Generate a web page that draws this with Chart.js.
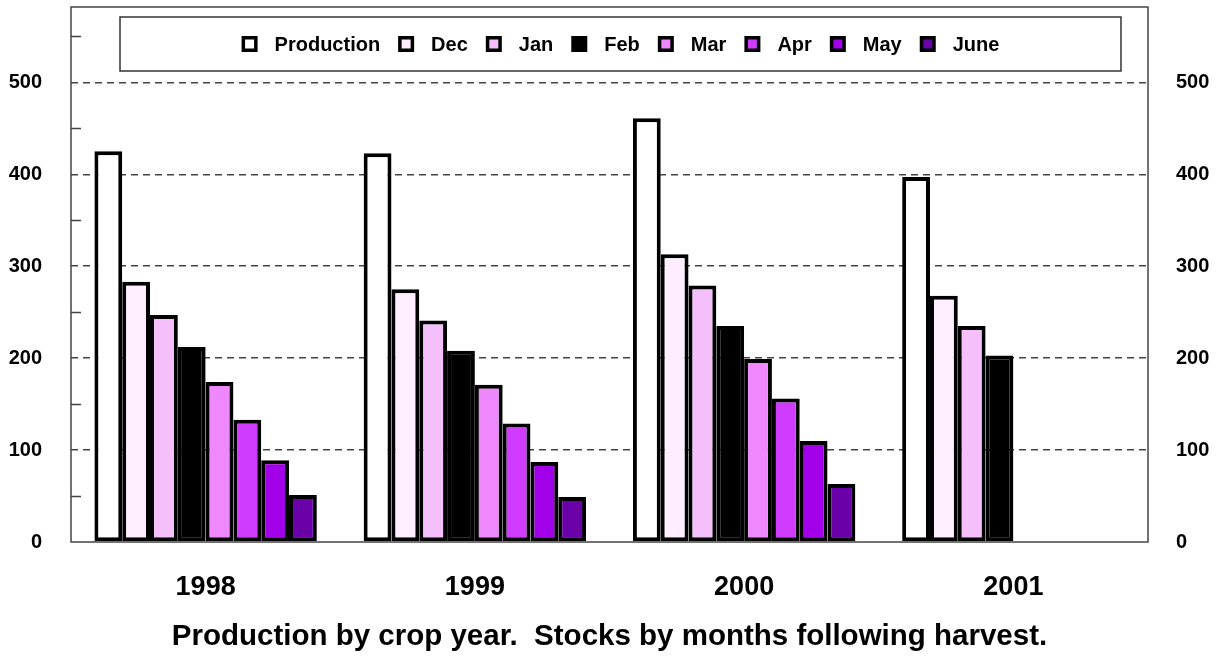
<!DOCTYPE html>
<html>
<head>
<meta charset="utf-8">
<script src="https://cdn.jsdelivr.net/npm/chart.js@4/dist/chart.umd.min.js"></script>
<style>
  html, body { margin: 0; padding: 0; background: #fff; }
  #wrap { width: 1217px; height: 657px; }
</style>
</head>
<body>
<div id="wrap"><canvas id="stocksChart" width="1217" height="657"></canvas></div>
<script>
// crop years
const categories = ["1998", "1999", "2000", "2001"];

// production and stocks by month after harvest
const production = [425, 423, 461, 397];
const dec = [283, 275, 313, 268];
const jan = [247, 241, 279, 235];
const feb = [212, 208, 235, 203];
const mar = [174, 171, 199, null];
const apr = [133, 129, 156, null];
const may = [89, 87, 110, null];
const june = [51, 49, 63, null];

const seriesLabels = ["Production", "Dec", "Jan", "Feb", "Mar", "Apr", "May", "June"];
const seriesColors = ["#ffffff", "#ffeeff", "#f5bffb", "#000000", "#ee88fc", "#cf3cfd", "#a100e8", "#6a00a8"];
const seriesData = [production, dec, jan, feb, mar, apr, may, june];

const yTicks = [0, 100, 200, 300, 400, 500];

Chart.defaults.font.family = "'Liberation Sans', Arial, sans-serif";
Chart.defaults.color = "#000";

// frame round the plot + short minor ticks on the left axis
const plotFrame = {
  id: "plotFrame",
  afterDatasetsDraw(chart) {
    const ctx = chart.ctx;
    const area = chart.chartArea;
    const y = chart.scales.y;
    ctx.save();
    ctx.strokeStyle = "#444";
    ctx.lineWidth = 1.5;
    ctx.strokeRect(area.left, area.top, area.right - area.left, area.bottom - area.top);
    ctx.beginPath();
    for (let v = 50; v < y.max; v += 100) {
      const py = Math.round(y.getPixelForValue(v)) + 0.5;
      ctx.moveTo(area.left, py);
      ctx.lineTo(area.left + 10, py);
    }
    ctx.stroke();
    ctx.restore();
  }
};

// boxed legend sitting inside the plot
const boxedLegend = {
  id: "boxedLegend",
  afterDraw(chart) {
    const ctx = chart.ctx;
    const area = chart.chartArea;
    const left = area.left + 49, right = area.right - 27;
    const top = area.top + 10, bottom = area.top + 64;
    ctx.save();
    ctx.fillStyle = "#fff";
    ctx.fillRect(left, top, right - left, bottom - top);
    ctx.strokeStyle = "#333";
    ctx.lineWidth = 1.5;
    ctx.strokeRect(left, top, right - left, bottom - top);

    ctx.font = "bold 20px 'Liberation Sans', Arial, sans-serif";
    ctx.textBaseline = "middle";
    ctx.textAlign = "left";
    const sw = 16, gapIn = 17, gapOut = 18;
    const items = chart.data.datasets.map(ds => ({
      label: ds.label,
      color: ds.backgroundColor,
      w: ctx.measureText(ds.label).width
    }));
    const total = items.reduce((s, it) => s + sw + gapIn + it.w, 0) + gapOut * (items.length - 1);
    let x = (left + right) / 2 - total / 2;
    const cy = (top + bottom) / 2;
    items.forEach(it => {
      ctx.fillStyle = "#000";
      ctx.fillRect(x, cy - sw / 2, sw, sw);
      ctx.fillStyle = it.color;
      ctx.fillRect(x + 3.5, cy - sw / 2 + 3.5, sw - 7, sw - 7);
      ctx.fillStyle = "#000";
      ctx.fillText(it.label, x + sw + gapIn, cy + 1);
      x += sw + gapIn + it.w + gapOut;
    });
    ctx.restore();
  }
};

const ctxStocks = document.getElementById("stocksChart").getContext("2d");
new Chart(ctxStocks, {
  type: "bar",
  data: {
    labels: categories,
    datasets: seriesLabels.map((label, i) => ({
      label: label,
      data: seriesData[i],
      backgroundColor: seriesColors[i],
      borderColor: "#000",
      borderWidth: 4,
      borderSkipped: false,
      categoryPercentage: 0.826,
      barPercentage: 1.0
    }))
  },
  options: {
    responsive: false,
    animation: false,
    layout: { padding: { top: 7, left: 0, right: 0, bottom: 0 } },
    plugins: {
      legend: { display: false },
      tooltip: { enabled: false }
    },
    scales: {
      x: {
        grid: { display: false, drawTicks: false },
        border: { display: false },
        ticks: {
          padding: 29,
          font: { size: 27, weight: "bold" }
        },
        title: {
          display: true,
          text: "Production by crop year.  Stocks by months following harvest.",
          font: { size: 29.5, weight: "bold" },
          padding: { top: 3, bottom: 2 }
        },
        afterFit(scale) { scale.height = 115; }
      },
      y: {
        position: "left",
        min: 0,
        max: 582,
        afterBuildTicks(scale) {
          scale.ticks = yTicks.map(v => ({ value: v }));
        },
        grid: {
          drawTicks: false,
          color: (c) => (c.tick && c.tick.value > 0 ? "#444" : "transparent"),
          lineWidth: 1.5
        },
        border: { display: false, dash: [7, 5] },
        ticks: {
          padding: 29,
          font: { size: 20, weight: "bold" }
        },
        afterFit(scale) {
          scale.width = 71;
          scale.paddingTop = 0;
          scale.paddingBottom = 0;
        }
      },
      y2: {
        position: "right",
        min: 0,
        max: 582,
        afterBuildTicks(scale) {
          scale.ticks = yTicks.map(v => ({ value: v }));
        },
        grid: { display: false, drawTicks: false },
        border: { display: false },
        ticks: {
          padding: 28,
          font: { size: 20, weight: "bold" }
        },
        afterFit(scale) {
          scale.width = 69;
          scale.paddingTop = 0;
          scale.paddingBottom = 0;
        }
      }
    }
  },
  plugins: [plotFrame, boxedLegend]
});
</script>
</body>
</html>
